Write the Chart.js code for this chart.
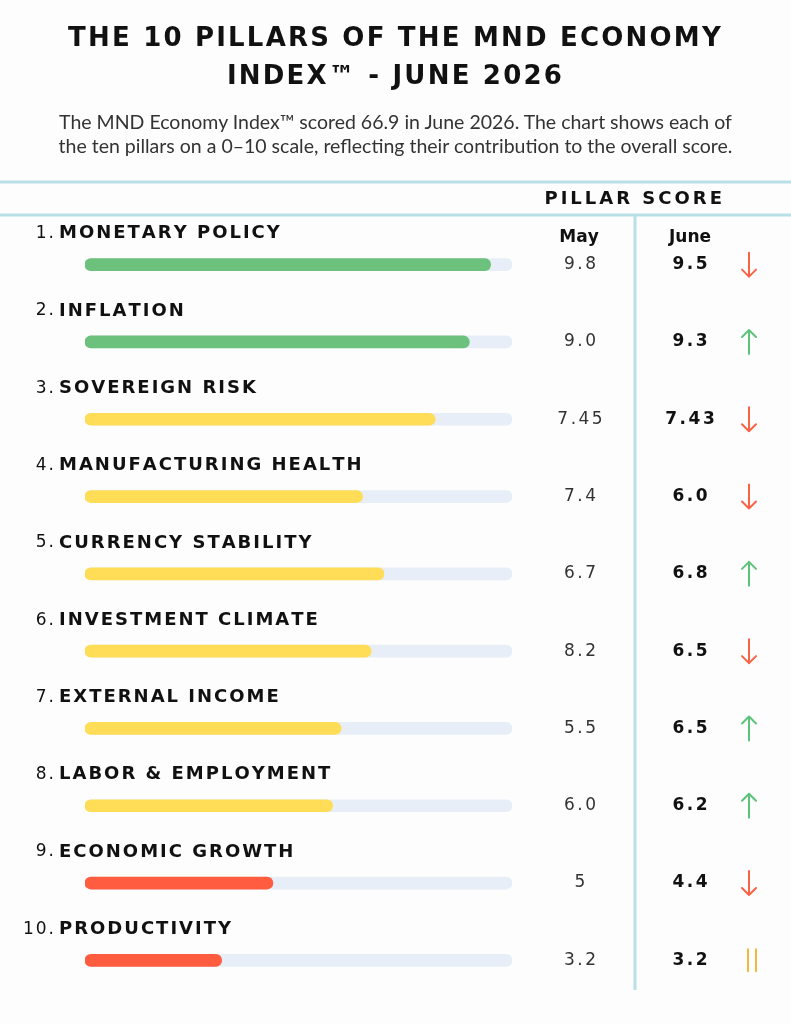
<!DOCTYPE html>
<html>
<head>
<meta charset="utf-8">
<title>The 10 Pillars of the MND Economy Index - June 2026</title>
<script src="https://cdn.jsdelivr.net/npm/chart.js@4.4.1/dist/chart.umd.min.js"></script>
<style>
  html, body { margin: 0; padding: 0; background: #fdfdfd; }
  #page { position: relative; width: 791px; height: 1024px; overflow: hidden; }
  #chart { position: absolute; top: 0; left: 0; }
  h1 {
    position: absolute; top: 18px; left: 0; width: 791px; margin: 0;
    text-align: center; font-family: "DejaVu Sans", sans-serif; font-weight: bold;
    font-size: 26px; letter-spacing: 2.2px; line-height: 38px; color: #111;
  }
  p.sub {
    position: absolute; top: 110px; left: 0; width: 791px; margin: 0;
    text-align: center; font-family: Lato, sans-serif; font-size: 19.5px;
    line-height: 24px; color: #333;
  }
</style>
</head>
<body>
<div id="page">
  <canvas id="chart" width="791" height="1024"></canvas>
  <h1>THE 10 PILLARS OF THE MND ECONOMY<br>INDEX™ - JUNE 2026</h1>
  <p class="sub">The MND Economy Index™ scored 66.9 in June 2026. The chart shows each of<br>the ten pillars on a 0–10 scale, reflecting their contribution to the overall score.</p>
</div>
<script>
  const pillars = [
    'MONETARY POLICY', 'INFLATION', 'SOVEREIGN RISK', 'MANUFACTURING HEALTH',
    'CURRENCY STABILITY', 'INVESTMENT CLIMATE', 'EXTERNAL INCOME',
    'LABOR & EMPLOYMENT', 'ECONOMIC GROWTH', 'PRODUCTIVITY'
  ];
  // bar lengths as drawn in the picture (0-10 scale)
  const barLengths = [9.5, 9.0, 8.2, 6.5, 7.0, 6.7, 6.0, 5.8, 4.4, 3.2];
  const mayScores = ['9.8', '9.0', '7.45', '7.4', '6.7', '8.2', '5.5', '6.0', '5', '3.2'];
  const juneScores = ['9.5', '9.3', '7.43', '6.0', '6.8', '6.5', '6.5', '6.2', '4.4', '3.2'];
  const scaleMax = 10;

  const GREEN = '#6cc17c';
  const YELLOW = '#ffdd57';
  const RED = '#ff5c40';
  const TRACK = '#e8eef7';
  const RULE = '#b9dfe7';

  function barColor(i) {
    const v = parseFloat(juneScores[i]);
    if (v >= 9) return GREEN;
    if (v >= 5) return YELLOW;
    return RED;
  }

  function spacedText(ctx, text, x, y, spacing, align) {
    const widths = [];
    let total = 0;
    for (const ch of text) {
      const w = ctx.measureText(ch).width;
      widths.push(w);
      total += w + spacing;
    }
    total -= spacing;
    let cx = x;
    if (align === 'center') cx = x - total / 2;
    else if (align === 'right') cx = x - total;
    ctx.textAlign = 'left';
    let i = 0;
    for (const ch of text) {
      ctx.fillText(ch, cx, y);
      cx += widths[i++] + spacing;
    }
    return total;
  }

  function drawArrow(ctx, x, y, dir, color) {
    ctx.save();
    ctx.strokeStyle = color;
    ctx.lineWidth = 2;
    ctx.lineCap = 'round';
    ctx.lineJoin = 'round';
    ctx.beginPath();
    if (dir === 0) {
      ctx.moveTo(x - 4, y - 11); ctx.lineTo(x - 4, y + 11);
      ctx.moveTo(x + 4, y - 11); ctx.lineTo(x + 4, y + 11);
    } else {
      ctx.moveTo(x, y - 12); ctx.lineTo(x, y + 12);
      if (dir < 0) {
        ctx.moveTo(x - 7, y + 5); ctx.lineTo(x, y + 12); ctx.lineTo(x + 7, y + 5);
      } else {
        ctx.moveTo(x - 7, y - 5); ctx.lineTo(x, y - 12); ctx.lineTo(x + 7, y - 5);
      }
    }
    ctx.stroke();
    ctx.restore();
  }

  const decorPlugin = {
    id: 'pillarDecor',
    afterDraw(chart) {
      const ctx = chart.ctx;
      const yScale = chart.scales.y;
      ctx.save();

      // rules
      ctx.strokeStyle = RULE;
      ctx.lineWidth = 3;
      ctx.beginPath();
      ctx.moveTo(0, 182); ctx.lineTo(791, 182);
      ctx.moveTo(0, 215); ctx.lineTo(791, 215);
      ctx.moveTo(635, 215); ctx.lineTo(635, 990);
      ctx.stroke();

      // header
      ctx.fillStyle = '#111';
      ctx.textBaseline = 'middle';
      ctx.font = 'bold 18px "DejaVu Sans"';
      spacedText(ctx, 'PILLAR SCORE', 722, 199, 3, 'right');
      ctx.font = 'bold 17px "DejaVu Sans"';
      spacedText(ctx, 'May', 579, 238, 0, 'center');
      spacedText(ctx, 'June', 690, 238, 0, 'center');

      pillars.forEach((name, i) => {
        const y = yScale.getPixelForValue(i);
        const labelY = y - 31;
        const labelX = 59;

        ctx.fillStyle = '#111';
        ctx.font = '17px "DejaVu Sans"';
        spacedText(ctx, (i + 1) + '.', labelX - 5, labelY, 2, 'right');
        ctx.font = 'bold 18px "DejaVu Sans"';
        spacedText(ctx, name, labelX, labelY, 2, 'left');

        ctx.fillStyle = '#333';
        ctx.font = '17px "DejaVu Sans"';
        spacedText(ctx, mayScores[i], 580, y, 2.5, 'center');
        ctx.fillStyle = '#111';
        ctx.font = 'bold 17px "DejaVu Sans"';
        spacedText(ctx, juneScores[i], 690, y, 2.5, 'center');

        const diff = parseFloat(juneScores[i]) - parseFloat(mayScores[i]);
        if (diff > 0) drawArrow(ctx, 749, y, 1, '#5cc47a');
        else if (diff < 0) drawArrow(ctx, 749, y, -1, '#fa6246');
        else drawArrow(ctx, 752, y, 0, '#f2b93b');
      });

      ctx.restore();
    }
  };

  new Chart(document.getElementById('chart'), {
    type: 'bar',
    data: {
      labels: pillars,
      datasets: [
        {
          label: 'Score',
          data: barLengths,
          backgroundColor: pillars.map((_, i) => barColor(i)),
          barThickness: 12,
          borderRadius: 6,
          borderSkipped: false,
          grouped: false,
          order: 0
        },
        {
          label: 'Scale',
          data: pillars.map(() => scaleMax),
          backgroundColor: TRACK,
          barThickness: 12,
          borderRadius: 6,
          borderSkipped: false,
          grouped: false,
          order: 1
        }
      ]
    },
    options: {
      indexAxis: 'y',
      responsive: false,
      animation: false,
      layout: { padding: { left: 85, right: 279, top: 226, bottom: 25 } },
      scales: {
        x: { min: 0, max: scaleMax, display: false },
        y: { display: false }
      },
      plugins: {
        legend: { display: false },
        tooltip: { enabled: false }
      }
    },
    plugins: [decorPlugin]
  });
</script>
</body>
</html>
